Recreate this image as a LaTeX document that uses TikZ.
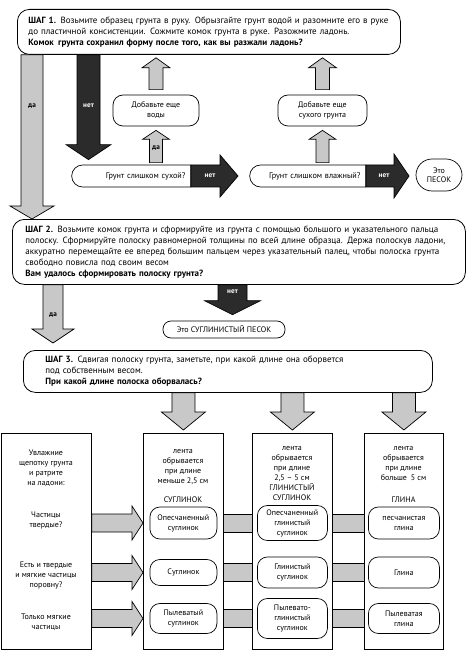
\documentclass[tikz,border=0pt]{standalone}
\usepackage{fontspec}
\setmainfont{PT Sans}
\usetikzlibrary{calc,shapes.misc}

\definecolor{arrowlight}{HTML}{C8C8C8}
\definecolor{arrowdark}{HTML}{2B2B2B}

\tikzset{
  stepbox/.style={draw, rounded corners=12pt, line width=0.8pt, anchor=north west,
    align=left, font=\fontsize{9}{11}\selectfont, inner ysep=0pt},
  column/.style={draw, line width=0.8pt, anchor=north west, inner sep=0pt},
  note/.style={draw, rounded corners=10pt, line width=0.7pt, align=center,
    font=\fontsize{8}{10}\selectfont, inner sep=1pt},
  rowq/.style={draw, rounded rectangle, rounded rectangle right arc=none, line width=0.7pt,
    minimum height=22pt, inner xsep=4pt, inner ysep=0pt, align=right,
    font=\fontsize{8.2}{10}\selectfont},
  plain/.style={align=center, font=\fontsize{8}{10}\selectfont},
  light/.style={fill=arrowlight, draw=black, line width=0.7pt},
  dark/.style={fill=arrowdark, draw=black, line width=0.7pt},
  yes/.style={font=\bfseries\fontsize{7.2}{8}\selectfont},
  no/.style={font=\bfseries\fontsize{7.2}{8}\selectfont, text=white},
}

% block arrow: style, from, to, half shaft, half head, head length
\newcommand{\blockarrow}[6]{%
  \coordinate (bs) at (#2);
  \coordinate (be) at (#3);
  \coordinate (bb) at ($(be)!#6!(bs)$);
  \draw[#1] ($(bs)!#4!90:(be)$) -- ($(bb)!#4!-90:(bs)$) -- ($(bb)!#5!-90:(bs)$) -- (be)
    -- ($(bb)!#5!90:(bs)$) -- ($(bb)!#4!90:(bs)$) -- ($(bs)!#4!-90:(be)$) -- cycle;}

\begin{document}
\begin{tikzpicture}[x=1pt,y=-1pt]
\useasboundingbox (0,0) rectangle (475,660);

% step 1
\node[stepbox, minimum width=383pt, minimum height=45pt, inner xsep=11pt, text width=361pt] (step1) at (17,9)
  {\textbf{ШАГ 1.}\enspace Возьмите образец грунта в руку. Обрызгайте грунт водой и разомните его в руке\\
   до пластичной консистенции. Сожмите комок грунта в руке. Разожмите ладонь.\\
   \textbf{Комок\enspace грунта сохранил форму после того, как вы разжали ладонь?}};

\node[note, minimum width=86pt, minimum height=31pt] (water) at (156,110.5) {Добавьте еще\\воды};
\node[note, minimum width=89pt, minimum height=31pt] (soil) at (322.5,110.5) {Добавьте еще\\сухого грунта};

\node[rowq, minimum width=127pt, text width=108pt] (dry) at (131.5,176) {Грунт слишком сухой?};
\node[rowq, minimum width=124pt, text width=105pt] (wet) at (308,176) {Грунт слишком влажный?};
\node[draw, rounded rectangle, line width=0.7pt, minimum width=48pt, minimum height=32pt, inner sep=1pt,
  align=center, font=\fontsize{8}{9.5}\selectfont] (sand) at (439,175) {Это\\ПЕСОК};

% step 2
\node[stepbox, minimum width=453pt, minimum height=65pt, inner xsep=13pt, text width=427pt] (step2) at (12,219)
  {\textbf{ШАГ 2.} Возьмите комок грунта и сформируйте из грунта с помощью большого и указательного пальца\\
   полоску. Сформируйте полоску равномерной толщины по всей длине образца. Держа полоскув ладони,\\
   аккуратно перемещайте ее вперед большим пальцем через указательный палец, чтобы полоска грунта\\
   свободно повисла под своим весом\\
   \textbf{Вам удалось сформировать полоску грунта?}};

\node[note, rounded corners=8pt, minimum width=122pt, minimum height=17pt] (loamsand) at (224,329.5) {Это СУГЛИНИСТЫЙ ПЕСОК};

% step 3
\node[stepbox, minimum width=409pt, minimum height=42pt, inner xsep=22pt, text width=365pt] (step3) at (23,350)
  {\textbf{ШАГ 3.} Сдвигая полоску грунта, заметьте, при какой длине она оборвется\\
   под собственным весом.\\
   \textbf{При какой длине полоска оборвалась?}};

% columns
\node[column, minimum width=90pt, minimum height=216pt] (cond) at (1,433) {};
\node[column, minimum width=80pt, minimum height=216pt] (col1) at (143,433) {};
\node[column, minimum width=80pt, minimum height=216pt] (col2) at (252,433) {};
\node[column, minimum width=79pt, minimum height=216pt] (col3) at (364,433) {};

\coordinate (row1) at (0,523);
\coordinate (row2) at (0,572.5);
\coordinate (row3) at (0,618.5);

\node[plain] at (46,468) {Увлажние\\щепотку грунта\\и ратрите\\на ладони:};
\node[plain] at (46,520) {Частицы\\твердые?};
\node[plain] at (46,576) {Есть и твердые\\и мягкие частицы\\поровну?};
\node[plain] at (46,622) {Только мягкие\\частицы};

\node[plain] at (183,467) {лента\\обрывается\\при длине\\меньше 2,5 см};
\node[plain] at (183,500) {СУГЛИНОК};
\node[plain] at (292,473.5) {лента\\обрывается\\при длине\\2,5 -- 5 см\\ГЛИНИСТЫЙ\\СУГЛИНОК};
\node[plain] at (403.5,463.5) {лента\\обрывается\\при длине\\больше\enspace 5 см};
\node[plain] at (403.5,500) {ГЛИНА};

\node[note, minimum width=67pt, minimum height=32pt] (a1) at (col1 |- row1) {Опесчаненный\\суглинок};
\node[note, minimum width=67pt, minimum height=26pt] (a2) at (col1 |- row2) {Суглинок};
\node[note, minimum width=67pt, minimum height=30pt] (a3) at (col1 |- row3) {Пылеватый\\суглинок};
\node[note, minimum width=70pt, minimum height=35pt] (b1) at (col2 |- row1) {Опесчаненный\\глинистый\\суглинок};
\node[note, minimum width=70pt, minimum height=31pt] (b2) at (col2 |- row2) {Глинистый\\суглинок};
\node[note, minimum width=70pt, minimum height=40pt] (b3) at (col2 |- row3) {Пылевато-\\глинистый\\суглинок};
\node[note, minimum width=71pt, minimum height=32pt] (c1) at (col3 |- row1) {песчанистая\\глина};
\node[note, minimum width=71pt, minimum height=31pt] (c2) at (col3 |- row2) {Глина};
\node[note, minimum width=71pt, minimum height=30pt] (c3) at (col3 |- row3) {Пылеватая\\глина};

% arrows of step 1
\coordinate (yes1) at (32,0);
\coordinate (no1) at (88.5,0);
\blockarrow{light}{step1.south -| yes1}{step2.north -| yes1}{11pt}{22pt}{13pt}
\node[yes] at (32,106) {да};
\blockarrow{dark}{step1.south -| no1}{$(dry.north -| no1)+(0,-5)$}{11.5pt}{22.5pt}{15pt}
\node[no] at (88.5,106) {нет};
\blockarrow{light}{$(water.north)+(0,-5)$}{$(step1.south -| water)+(0,3)$}{7pt}{14pt}{10pt}
\blockarrow{light}{$(soil.north)+(0,-5)$}{$(step1.south -| soil)+(0,3)$}{7pt}{14pt}{10pt}
\blockarrow{light}{$(dry.north -| water)+(0,-2)$}{$(water.south)+(0,4)$}{6.5pt}{13.5pt}{9pt}
\node[yes] at (156,148) {да};
\blockarrow{light}{$(wet.north -| soil)+(0,-2)$}{$(soil.south)+(0,4)$}{6.5pt}{13.5pt}{9pt}
\blockarrow{dark}{dry.east}{$(dry.east)+(47,0)$}{11pt}{21pt}{18pt}
\node[no] at (210,176) {нет};
\blockarrow{dark}{wet.east}{$(wet.east)+(43,0)$}{11pt}{22pt}{15pt}
\node[no] at (384,176) {нет};

% arrows of step 2
\coordinate (yes2) at (53,0);
\coordinate (no2) at (232.5,0);
\blockarrow{light}{step2.south -| yes2}{$(step3.north -| yes2)+(0,-7)$}{10pt}{21pt}{14pt}
\node[yes] at (53,315) {да};
\blockarrow{dark}{step2.south -| no2}{$(loamsand.north -| no2)+(0,-6)$}{14.5pt}{28pt}{14pt}
\node[no] at (232.5,292) {нет};

% arrows of step 3
\blockarrow{light}{step3.south -| col1}{$(col1.north)+(0,-3)$}{11.5pt}{22pt}{18pt}
\blockarrow{light}{step3.south -| col2}{$(col2.north)+(0,-3)$}{11.5pt}{22pt}{18pt}
\blockarrow{light}{step3.south -| col3}{$(col3.north)+(0,-3)$}{11.5pt}{22pt}{18pt}

% rows
\foreach \r in {1,2,3} {
  \blockarrow{light}{cond.east |- row\r}{col1.west |- row\r}{9pt}{17pt}{11pt}
  \draw[light] ($(col1.east |- row\r)+(0,-9)$) rectangle ($(col2.west |- row\r)+(0,9)$);
  \draw[light] ($(col2.east |- row\r)+(0,-9)$) rectangle ($(col3.west |- row\r)+(0,9)$);
}
\end{tikzpicture}
\end{document}
